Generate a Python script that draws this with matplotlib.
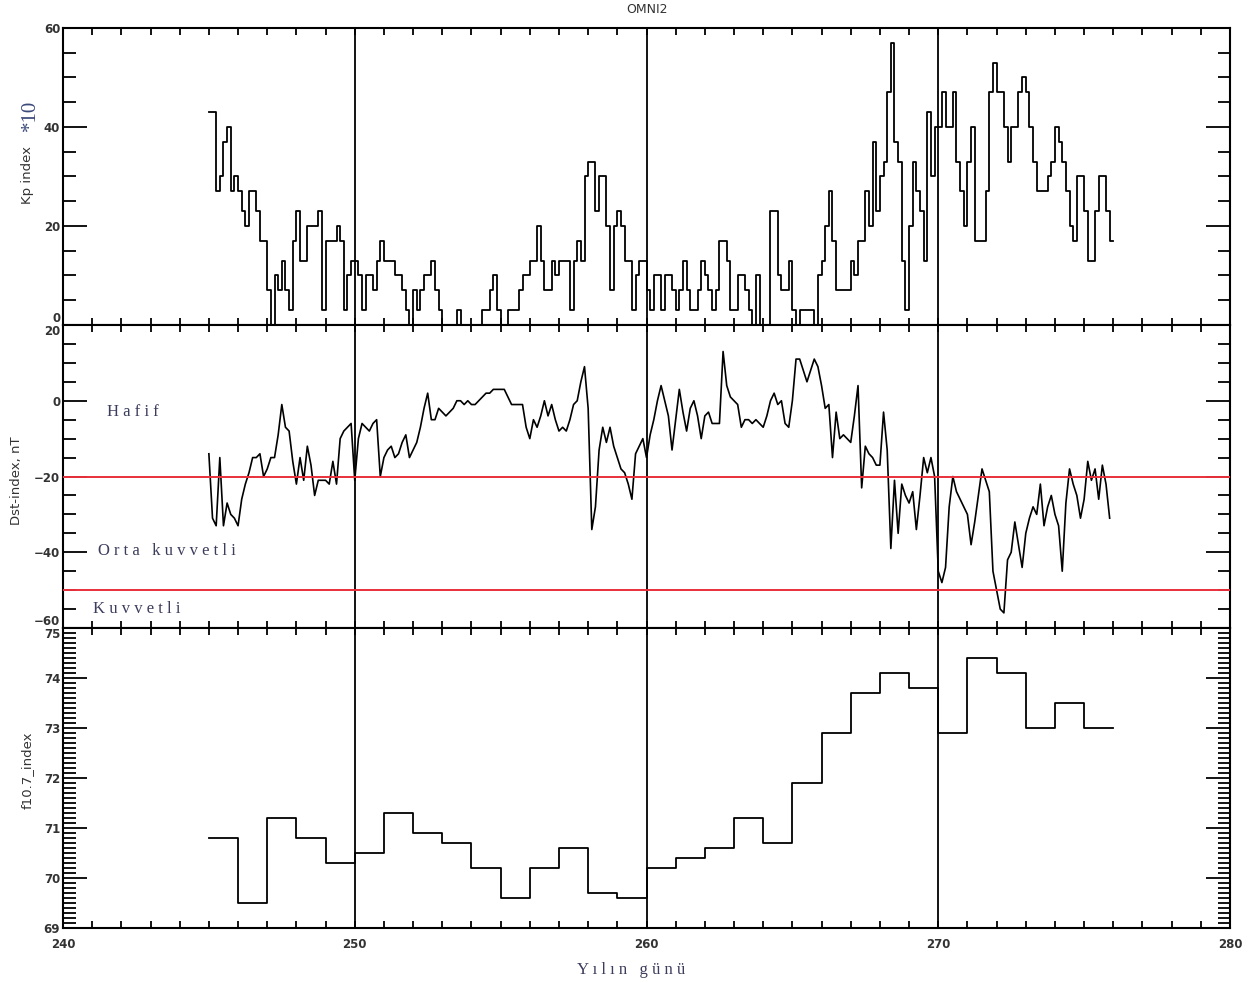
import numpy as np
import matplotlib.pyplot as plt
from matplotlib.ticker import MultipleLocator

# OMNI2 verileri, gun 245-276 (3 saatlik Kp*10 ve Dst, gunluk f10.7)
start_day = 245

kp10 = [43, 43, 27, 30, 37, 40, 27, 30,
        27, 23, 20, 27, 27, 23, 17, 17,
        7, 0, 10, 7, 13, 7, 3, 17,
        23, 13, 13, 20, 20, 20, 23, 3,
        17, 17, 17, 20, 17, 3, 10, 13,
        13, 10, 3, 10, 10, 7, 13, 17,
        13, 13, 13, 10, 10, 7, 3, 0,
        7, 3, 7, 10, 10, 13, 7, 3,
        0, 0, 0, 0, 3, 0, 0, 0,
        0, 0, 0, 3, 3, 7, 10, 3,
        0, 0, 3, 3, 3, 7, 10, 10,
        13, 13, 20, 13, 7, 7, 13, 10,
        13, 13, 13, 3, 13, 17, 13, 30,
        33, 33, 23, 30, 30, 20, 7, 20,
        23, 20, 13, 13, 3, 10, 13, 13,
        7, 3, 10, 10, 3, 10, 10, 7,
        3, 7, 13, 7, 3, 3, 7, 13,
        10, 7, 3, 7, 17, 17, 13, 3,
        3, 10, 10, 7, 3, 0, 10, 0,
        0, 0, 23, 23, 10, 7, 7, 13,
        3, 0, 3, 3, 3, 3, 0, 10,
        13, 20, 27, 17, 7, 7, 7, 7,
        13, 10, 17, 17, 27, 20, 37, 23,
        30, 33, 47, 57, 37, 33, 13, 3,
        20, 33, 27, 23, 13, 43, 30, 40,
        40, 47, 40, 40, 47, 33, 27, 20,
        33, 40, 17, 17, 17, 27, 47, 53,
        47, 47, 40, 33, 40, 40, 47, 50,
        47, 40, 33, 27, 27, 27, 30, 33,
        40, 37, 33, 27, 20, 17, 30, 30,
        23, 13, 13, 23, 30, 30, 23, 17]

dst = [-14, -31, -33, -15, -33, -27, -30, -31,
       -33, -26, -22, -19, -15, -15, -14, -20,
       -18, -15, -15, -9, -1, -7, -8, -16,
       -22, -15, -21, -12, -17, -25, -21, -21,
       -21, -22, -16, -22, -10, -8, -7, -6,
       -21, -10, -6, -7, -8, -6, -5, -20,
       -15, -13, -12, -15, -14, -11, -9, -15,
       -13, -11, -7, -2, 2, -5, -5, -2,
       -3, -4, -3, -2, 0, 0, -1, 0,
       -1, -1, 0, 1, 2, 2, 3, 3,
       3, 3, 1, -1, -1, -1, -1, -7,
       -10, -5, -7, -4, 0, -4, -1, -5,
       -8, -7, -8, -5, -1, 0, 5, 9,
       -2, -34, -28, -13, -7, -11, -7, -12,
       -15, -18, -19, -22, -26, -14, -12, -10,
       -15, -9, -5, 0, 4, 0, -4, -13,
       -5, 3, -3, -8, -2, 0, -4, -10,
       -4, -3, -6, -6, -6, 13, 4, 1,
       0, -1, -7, -5, -5, -6, -5, -6,
       -7, -4, 0, 2, -1, 0, -6, -7,
       0, 11, 11, 8, 5, 8, 11, 9,
       4, -2, -1, -15, -3, -10, -9, -10,
       -11, -4, 4, -23, -12, -14, -15, -17,
       -17, -3, -13, -39, -21, -35, -22, -25,
       -27, -24, -34, -25, -15, -19, -15, -20,
       -45, -48, -44, -28, -20, -24, -26, -28,
       -30, -38, -32, -25, -18, -21, -24, -45,
       -50, -55, -56, -42, -40, -32, -38, -44,
       -35, -31, -28, -30, -22, -33, -28, -25,
       -30, -33, -45, -27, -18, -22, -25, -31,
       -26, -16, -21, -18, -26, -17, -22, -31]

f107 = [70.8, 69.5, 71.2, 70.8, 70.3, 70.5, 71.3, 70.9, 70.7, 70.2,
        69.6, 70.2, 70.6, 69.7, 69.6, 70.2, 70.4, 70.6, 71.2, 70.7,
        71.9, 72.9, 73.7, 74.1, 73.8, 72.9, 74.4, 74.1, 73.0, 73.5, 73.0]

kp_ticks = [0, 20, 40, 60]
dst_ticks = [-60, -40, -20, 0, 20]
f107_ticks = [69, 70, 71, 72, 73, 74, 75]
storm_levels = [-20, -50]
day_lines = [250, 260, 270]

t3 = start_day + np.arange(len(kp10)) * 0.125
td = start_day + np.arange(len(f107))

fig = plt.figure(figsize=(12.5, 9.83), dpi=100)
ax1 = fig.add_axes([0.0504, 0.6694, 0.9336, 0.3022])
ax2 = fig.add_axes([0.0504, 0.3611, 0.9336, 0.3083])
ax3 = fig.add_axes([0.0504, 0.0560, 0.9336, 0.3052])

lw = 1.3
ax1.step(np.append(t3, t3[-1] + 0.125), np.append(kp10, kp10[-1]), where='post', color='black', lw=lw)
ax2.plot(t3, dst, color='black', lw=1.2)
ax3.step(np.append(td, td[-1] + 1), np.append(f107, f107[-1]), where='post', color='black', lw=lw)

for lev in storm_levels:
    ax2.axhline(lev, color='#e8303a', lw=1.4, zorder=3)

ax1.set_ylim(0, 60)
ax1.set_yticks(kp_ticks)
ax1.yaxis.set_minor_locator(MultipleLocator(5))
ax2.set_ylim(-60, 20)
ax2.set_yticks(dst_ticks)
ax2.yaxis.set_minor_locator(MultipleLocator(5))
ax3.set_ylim(69, 75)
ax3.set_yticks(f107_ticks)
ax3.yaxis.set_minor_locator(MultipleLocator(0.1))

for ax in (ax1, ax2, ax3):
    ax.set_xlim(240, 280)
    ax.xaxis.set_major_locator(MultipleLocator(10))
    ax.xaxis.set_minor_locator(MultipleLocator(1))
    for d in day_lines:
        ax.axvline(d, color='black', lw=1.3)
    for s in ax.spines.values():
        s.set_linewidth(1.5)
    ax.tick_params(which='both', direction='in', top=True, right=True, width=1.3, colors='black')
    ax.tick_params(axis='y', which='major', length=17, pad=2)
    ax.tick_params(axis='y', which='minor', length=9)
    ax.tick_params(axis='x', which='both', length=5)
    for lab in ax.get_yticklabels():
        lab.set_fontsize(8.5)
        lab.set_fontweight('bold')
        lab.set_color('#333333')
ax1.tick_params(axis='x', labelbottom=False)
ax2.tick_params(axis='x', labelbottom=False)
ax3.tick_params(axis='x', pad=7)
for lab in ax3.get_xticklabels():
    lab.set_fontsize(8.5)
    lab.set_fontweight('bold')
    lab.set_color('#333333')

# panel sinirlarindaki etiketler ust uste binmesin
ax1.get_yticklabels()[0].set_va('bottom')
ax2.get_yticklabels()[-1].set_va('top')
ax2.get_yticklabels()[0].set_va('bottom')
ax3.get_yticklabels()[-1].set_va('top')

fig.text(0.5176, 0.99, 'OMNI2', ha='center', va='center', fontsize=9, color='#333333')

# eksen basliklari
fig.text(0.022, 0.822, 'Kp index', rotation=90, ha='center', va='center', fontsize=9.5, color='#333333')
fig.text(0.024, 0.883, '*10', rotation=90, ha='center', va='center', fontsize=15,
         family='Liberation Serif', color='#3b4a7a')
fig.text(0.013, 0.511, 'Dst-index, nT', rotation=90, ha='center', va='center', fontsize=9.5, color='#333333')
fig.text(0.022, 0.216, 'f10.7_index', rotation=90, ha='center', va='center', fontsize=9.5, color='#333333')

serif = dict(family='Liberation Serif', fontsize=12, color='#3c3c5c', va='center')
fig.text(0.0856, 0.581, 'H a f i f', **serif)
fig.text(0.0784, 0.4395, 'O r t a   k u v v e t l i', **serif)
fig.text(0.0744, 0.380, 'K u v v e t l i', **serif)
fig.text(0.505, 0.0135, 'Y ı l ı n   g ü n ü', ha='center', family='Liberation Serif', fontsize=12,
         color='#3c3c5c', va='center')

fig.savefig('out.png', dpi=100)
